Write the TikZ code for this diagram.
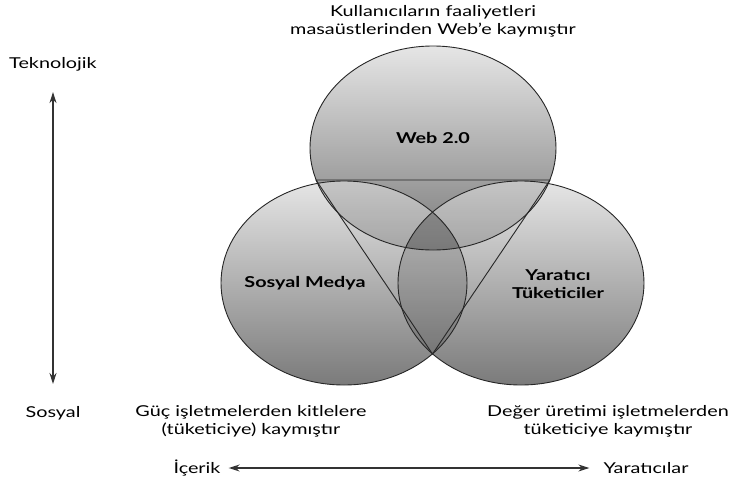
\documentclass[tikz,border=0pt]{standalone}
\usepackage{fontspec}
\setmainfont{Lato}[FakeStretch=1.32]
\usetikzlibrary{positioning,arrows.meta,shapes.geometric}

\begin{document}
\begin{tikzpicture}[
  x=1pt, y=-1pt,
  font=\fontsize{15}{18}\selectfont,
  venn/.style={ellipse, minimum width=246pt, minimum height=204pt, inner sep=0pt,
               top color=black!10, bottom color=black!52},
  rim/.style={draw=black!85, line width=0.9pt},
  shade/.style={black, fill opacity=0.14},
  lab/.style={align=center, inner sep=2pt},
  blab/.style={lab, font=\fontsize{15}{18}\selectfont\bfseries},
  arr/.style={{Stealth[length=11pt,width=7pt]}-{Stealth[length=11pt,width=7pt]},
              line width=1.3pt, black!80}
]
\useasboundingbox (0,0) rectangle (732,482);
% ----- three circles -----
\node[venn] (web) at (433,148) {};
\node[venn] (sosyal) at (344,283) {};
\node[venn] (yaratici) at (521,283) {};
% ----- darker overlaps -----
\begin{scope}
  \clip (web.center) ellipse [x radius=123pt, y radius=102pt];
  \fill[shade] (sosyal.center) ellipse [x radius=123pt, y radius=102pt];
  \fill[shade] (yaratici.center) ellipse [x radius=123pt, y radius=102pt];
\end{scope}
\begin{scope}
  \clip (sosyal.center) ellipse [x radius=123pt, y radius=102pt];
  \fill[shade] (yaratici.center) ellipse [x radius=123pt, y radius=102pt];
\end{scope}
\foreach \c in {web,sosyal,yaratici}{\draw[rim] (\c.center) ellipse [x radius=123pt, y radius=102pt];}
% ----- triangle -----
\coordinate (tl) at (316,180);
\coordinate (tr) at (550,180);
\coordinate (tb) at (432.5,354);
\draw[rim] (tl) -- (tr) -- (tb) -- cycle;
% ----- circle labels -----
\node[blab] (weblab) at ([yshift=10pt]web.center) {Web 2.0};
\node[blab] (soslab) at ([xshift=-39pt]sosyal.center) {Sosyal Medya};
\node[blab] (yarlab) at ([xshift=37pt, yshift=-1pt]yaratici.center) {Yaratıcı\\Tüketiciler};
% ----- outer texts -----
\node[lab] (ust) at (433,21) {Kullanıcıların faaliyetleri\\masaüstlerinden Web'e kaymıştır};
\node[lab] (tek) at (53,64) {Teknolojik};
\node[lab] (sos) at (53,413) {Sosyal};
\node[lab] (guc) at (251,421) {Güç işletmelerden kitlelere\\(tüketiciye) kaymıştır};
\node[lab] (deger) at (608,421) {Değer üretimi işletmelerden\\tüketiciye kaymıştır};
\node[lab] (icerik) at (197,468) {İçerik};
\node[lab] (yar) at (646,468) {Yaratıcılar};
% ----- axes -----
\draw[arr, shorten <=19pt, shorten >=20pt] (tek.south) -- (sos.north);
\draw[arr, shorten <=6pt, shorten >=12pt] (icerik.east) -- (yar.west);
\end{tikzpicture}
\end{document}
